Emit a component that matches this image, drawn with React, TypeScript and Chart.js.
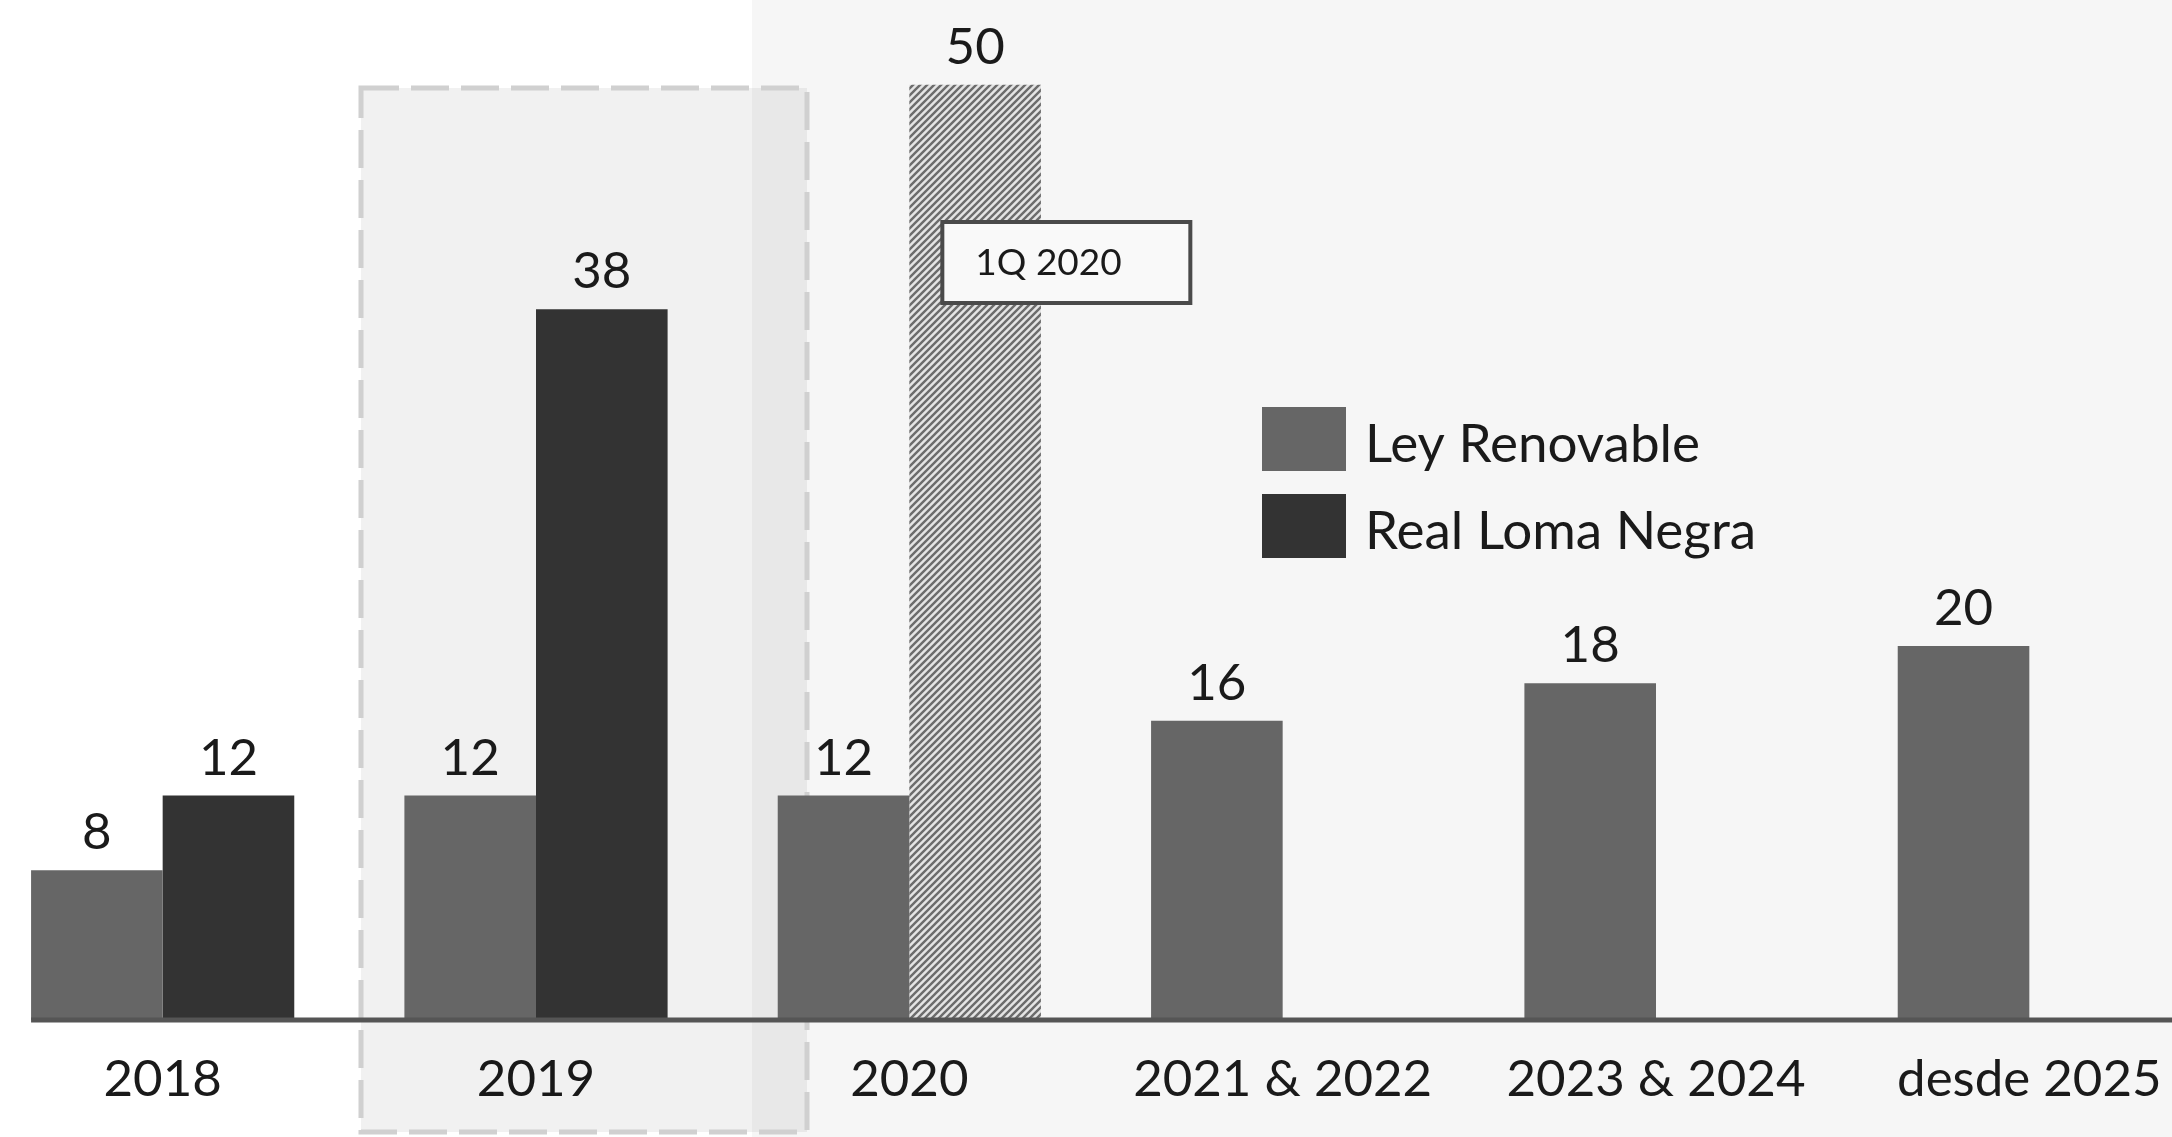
import React, { useEffect, useRef } from "react";
import { Chart, registerables } from "chart.js";

Chart.register(...registerables);

// ---- data ----
const categories = ["2018", "2019", "2020", "2021 & 2022", "2023 & 2024", "desde 2025"];
const leyRenovable = [8, 12, 12, 16, 18, 20];
const realLomaNegra: (number | null)[] = [12, 38, 50, null, null, null];
const seriesNames = ["Ley Renovable", "Real Loma Negra"];
const calloutText = "1Q 2020";
const highlightedCategory = "2019";
const hatchedCategory = "2020";
const yMax = 54;

// ---- layout constants (page is 2172 wide; canvas shifted left) ----
const SHIFT = 24;
const CANVAS_W = 2240;
const CANVAS_H = 1137;
const FONT = "Lato, 'Open Sans', sans-serif";
const TEXT = "#1a1a1a";

function makeHatch(): CanvasPattern | string {
  const s = 7;
  const c = document.createElement("canvas");
  c.width = s;
  c.height = s;
  const g = c.getContext("2d");
  if (!g) return "#aaaaaa";
  g.fillStyle = "#e4e4e4";
  g.fillRect(0, 0, s, s);
  g.strokeStyle = "#6c6c6c";
  g.lineWidth = 2.4;
  g.beginPath();
  g.moveTo(-1, s + 1);
  g.lineTo(s + 1, -1);
  g.moveTo(-s / 2 - 1, s / 2 + 1);
  g.lineTo(s / 2 + 1, -s / 2 - 1);
  g.moveTo(s / 2 - 1, s * 1.5 + 1);
  g.lineTo(s * 1.5 + 1, s / 2 - 1);
  g.stroke();
  return g.createPattern(c, "repeat") || "#aaaaaa";
}

const decorPlugin = {
  id: "decor",
  beforeDraw(chart: any) {
    const ctx = chart.ctx;
    ctx.save();
    ctx.fillStyle = "#ffffff";
    ctx.fillRect(0, 0, chart.width, chart.height);
    ctx.fillStyle = "#f6f6f6";
    ctx.fillRect(752 + SHIFT, 0, chart.width, chart.height);
    ctx.restore();
  },
  beforeDatasetsDraw(chart: any) {
    const ctx = chart.ctx;
    const xs = chart.scales.x;
    const cx = xs.getPixelForValue(categories.indexOf(highlightedCategory));
    const left = cx - 175;
    const right = cx + 271;
    const top = 88;
    const bottom = 1132;
    ctx.save();
    ctx.fillStyle = "rgba(0,0,0,0.055)";
    ctx.fillRect(left, top, right - left, bottom - top);
    ctx.strokeStyle = "#d0d0d0";
    ctx.lineWidth = 5;
    ctx.setLineDash([38, 12]);
    ctx.strokeRect(left, top, right - left, bottom - top);
    ctx.restore();
  },
  afterDatasetsDraw(chart: any) {
    const ctx = chart.ctx;
    const area = chart.chartArea;
    const meta0 = chart.getDatasetMeta(0);
    const first = meta0.data[0];
    ctx.save();
    // baseline
    ctx.strokeStyle = "#555555";
    ctx.lineWidth = 5;
    ctx.beginPath();
    ctx.moveTo(first.x - first.width / 2, area.bottom);
    ctx.lineTo(chart.width, area.bottom);
    ctx.stroke();

    // value labels
    ctx.fillStyle = TEXT;
    ctx.font = `51px ${FONT}`;
    ctx.textAlign = "center";
    ctx.textBaseline = "alphabetic";
    chart.data.datasets.forEach((ds: any, di: number) => {
      const meta = chart.getDatasetMeta(di);
      ds.data.forEach((v: number | null, i: number) => {
        if (v === null || v === undefined) return;
        const el = meta.data[i];
        ctx.fillText(String(v), el.x, el.y - 21);
      });
    });

    // callout box near hatched bar
    const hi = categories.indexOf(hatchedCategory);
    const hb = chart.getDatasetMeta(1).data[hi];
    const bx = hb.x - hb.width / 2 + 33;
    const by = 222;
    const bw = 248;
    const bh = 81;
    ctx.fillStyle = "#f9f9f9";
    ctx.fillRect(bx, by, bw, bh);
    ctx.strokeStyle = "#4a4a4a";
    ctx.lineWidth = 4;
    ctx.strokeRect(bx, by, bw, bh);
    ctx.fillStyle = TEXT;
    ctx.font = `37px ${FONT}`;
    ctx.textAlign = "left";
    ctx.textBaseline = "middle";
    ctx.fillText(calloutText, bx + 33, by + bh / 2 + 1);

    // legend
    const lx = 1262 + SHIFT;
    const rows = [407, 494];
    chart.data.datasets.forEach((ds: any, di: number) => {
      const col = Array.isArray(ds.backgroundColor) ? "#333333" : ds.backgroundColor;
      ctx.fillStyle = di === 1 ? "#333333" : col;
      ctx.fillRect(lx, rows[di], 84, 64);
      ctx.fillStyle = TEXT;
      ctx.font = `53px ${FONT}`;
      ctx.textAlign = "left";
      ctx.textBaseline = "alphabetic";
      ctx.fillText(ds.label, lx + 103, rows[di] + 55);
    });
    ctx.restore();
  },
};

export default function App() {
  const ref = useRef<HTMLCanvasElement>(null);

  useEffect(() => {
    let chart: Chart | null = null;
    let cancelled = false;
    const build = () => {
      if (cancelled || !ref.current) return;
      const hatch = makeHatch();
      chart = new Chart(ref.current, {
        type: "bar",
        data: {
          labels: categories,
          datasets: [
            {
              label: seriesNames[0],
              data: leyRenovable,
              backgroundColor: "#666666",
              categoryPercentage: 0.705,
              barPercentage: 1,
            },
            {
              label: seriesNames[1],
              data: realLomaNegra,
              backgroundColor: categories.map((c) => (c === hatchedCategory ? hatch : "#333333")),
              categoryPercentage: 0.705,
              barPercentage: 1,
            },
          ],
        } as any,
        options: {
          responsive: false,
          animation: false,
          layout: { padding: { top: 10, left: 0, right: 0, bottom: 0 } },
          plugins: {
            legend: { display: false },
            tooltip: { enabled: false },
          },
          scales: {
            x: {
              grid: { display: false, drawTicks: false },
              border: { display: false },
              ticks: {
                font: { family: FONT, size: 51 },
                color: TEXT,
                padding: 29,
                maxRotation: 0,
                autoSkip: false,
              },
              afterFit: (s: any) => {
                s.height = 117;
              },
            },
            y: { display: false, min: 0, max: yMax },
          },
        } as any,
        plugins: [decorPlugin],
      });
    };
    const fontsApi = (document as any).fonts;
    if (fontsApi && fontsApi.load) {
      Promise.all([fontsApi.load("51px Lato"), fontsApi.load("37px Lato")])
        .catch(() => null)
        .then(build);
    } else {
      build();
    }
    return () => {
      cancelled = true;
      if (chart) chart.destroy();
    };
  }, []);

  return (
    <div
      style={{
        position: "absolute",
        left: 0,
        top: 0,
        width: 2172,
        height: 1137,
        overflow: "hidden",
        background: "#ffffff",
      }}
    >
      <div style={{ position: "absolute", left: -SHIFT, top: 0, width: CANVAS_W, height: CANVAS_H }}>
        <canvas ref={ref} width={CANVAS_W} height={CANVAS_H} style={{ display: "block" }} />
      </div>
    </div>
  );
}
